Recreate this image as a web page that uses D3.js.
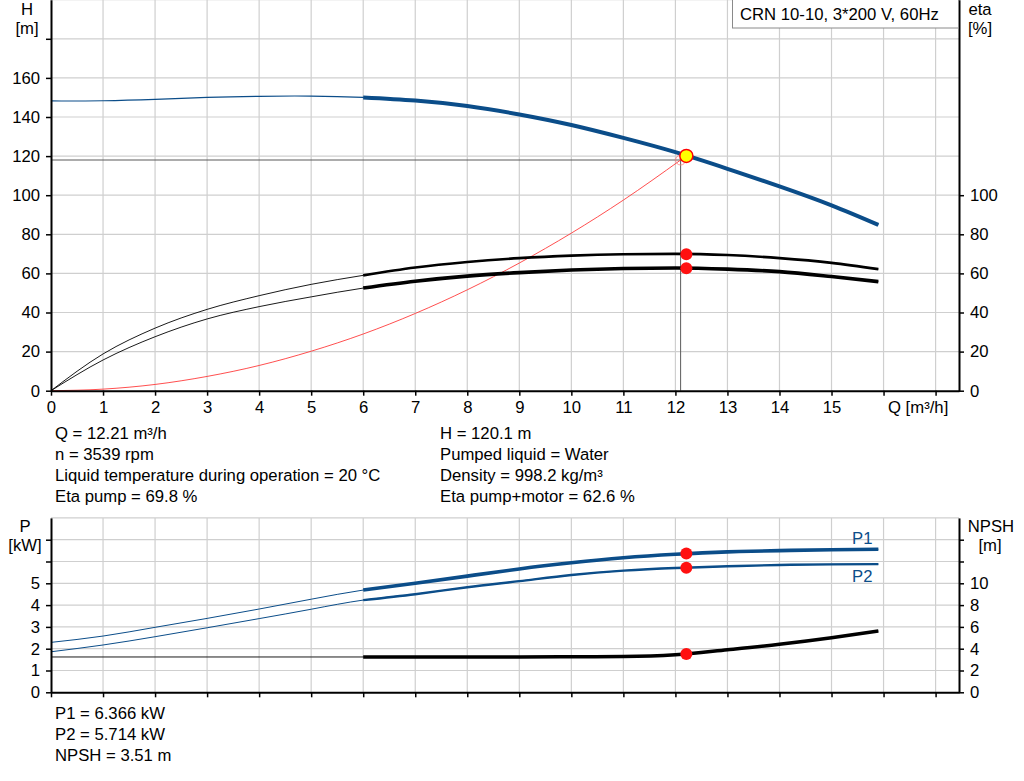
<!DOCTYPE html>
<html>
<head>
<meta charset="utf-8">
<script src="https://cdn.jsdelivr.net/npm/d3@7"></script>
<style>
  body { margin: 0; background: #fff; }
  svg text { font-family: "Liberation Sans", Arial, sans-serif; font-size: 16.7px; fill: #000; }
</style>
</head>
<body>
<svg width="1024" height="781"></svg>
<script>
'use strict';

// flow points along the pump curves [m3/h]
var flow = [0, 1, 2, 3, 4, 5, 6, 7, 8, 9, 10, 11, 12, 13, 14, 15, 15.9];
// head [m]
var head = [148.2, 148.3, 149, 150, 150.6, 150.7, 150, 148.4, 145.6, 141.3, 135.9, 129.3, 122.0, 113.5, 104.5, 94.8, 84.8];
// efficiency pump / pump+motor [%]
var etaPump = [0, 18.8, 32, 41.6, 48.6, 54.4, 59, 63, 65.8, 67.8, 69.1, 69.8, 70, 69.4, 67.8, 65.4, 62.2];
var etaTotal = [0, 15.7, 27.6, 36.7, 43, 48, 52.5, 56, 58.6, 60.4, 61.7, 62.5, 62.8, 62.2, 60.9, 58.4, 55.8];
// power [kW] and NPSH [m]
var p1 = [2.29, 2.58, 2.98, 3.39, 3.82, 4.27, 4.69, 5.0, 5.33, 5.66, 5.94, 6.17, 6.33, 6.44, 6.5, 6.54, 6.56];
var p2 = [1.86, 2.17, 2.55, 2.96, 3.38, 3.81, 4.23, 4.5, 4.82, 5.1, 5.38, 5.58, 5.7, 5.78, 5.84, 5.87, 5.88];
var npsh = [3.24, 3.24, 3.24, 3.24, 3.24, 3.24, 3.24, 3.24, 3.25, 3.25, 3.26, 3.28, 3.44, 3.9, 4.4, 5.0, 5.62];
// system curve
var sysFlow = [0, 1, 2, 3, 4, 5, 6, 7, 8, 9, 10, 11, 12.1];
var sysHead = [0, 0.8, 3.2, 7.3, 12.9, 20.2, 29, 39.5, 51.6, 65.3, 80.6, 97.5, 118];

// duty point
var duty = { q: 12.21, h: 120.1, etaP: 69.8, etaT: 62.6, p1: 6.366, p2: 5.714, npsh: 3.51 };
var cross = { q: 12.1, h: 118 };

var infoLeft = ['Q = 12.21 m³/h', 'n = 3539 rpm', 'Liquid temperature during operation = 20 °C', 'Eta pump = 69.8 %'];
var infoRight = ['H = 120.1 m', 'Pumped liquid = Water', 'Density = 998.2 kg/m³', 'Eta pump+motor = 62.6 %'];
var infoBottom = ['P1 = 6.366 kW', 'P2 = 5.714 kW', 'NPSH = 3.51 m'];
var title = 'CRN 10-10, 3*200 V, 60Hz';

var d3 = window.d3;
var svg = d3.select('svg');
var blue = '#0b4d89';
var grid = '#cfcfcf';
var x0 = 51, x1 = 959;

var x = d3.scaleLinear().domain([0, 17.45]).range([x0, x1]);
var yH = d3.scaleLinear().domain([0, 200]).range([390.7, -0.3]);
var yEta = d3.scaleLinear().domain([0, 200]).range([390.7, -0.3]);
var yP = d3.scaleLinear().domain([0, 8]).range([692.3, 517.9]);
var yN = d3.scaleLinear().domain([0, 16]).range([692.3, 517.9]);

var qTicks = d3.range(0, 18);

function gridLines(yScale, yTicks, top, bottom) {
    var g = svg.append('g').attr('stroke', grid).attr('stroke-width', 1.2);
    g.selectAll('.v').data(qTicks.slice(1)).enter().append('line')
        .attr('x1', function (d) { return x(d); }).attr('x2', function (d) { return x(d); })
        .attr('y1', top).attr('y2', bottom);
    g.selectAll('.h').data(yTicks).enter().append('line')
        .attr('x1', x0).attr('x2', x1)
        .attr('y1', function (d) { return yScale(d); }).attr('y2', function (d) { return yScale(d); });
}

gridLines(yH, d3.range(20, 220, 20), 0, yH(0));
gridLines(yP, d3.range(1, 9), yP(8), yP(0));

function curve(qs, vs, yScale, from, color, thin, thick, kind) {
    var pts = qs.map(function (q, i) { return [q, vs[i]]; });
    var line = d3.line().x(function (d) { return x(d[0]); }).y(function (d) { return yScale(d[1]); })
        .curve(kind || d3.curveMonotoneX);
    svg.append('path').attr('d', line(pts)).attr('fill', 'none')
        .attr('stroke', color).attr('stroke-width', thin);
    if (thick) {
        var part = pts.filter(function (d) { return d[0] >= from; });
        svg.append('path').attr('d', line(part)).attr('fill', 'none')
            .attr('stroke', color).attr('stroke-width', thick).attr('stroke-linecap', 'butt');
    }
}

// top chart
// crosshair
svg.append('line').attr('x1', x0).attr('x2', x(cross.q)).attr('y1', yH(cross.h)).attr('y2', yH(cross.h))
    .attr('stroke', '#5a5a5a').attr('stroke-width', 1);
svg.append('line').attr('x1', x(cross.q)).attr('x2', x(cross.q)).attr('y1', yH(cross.h)).attr('y2', yH(0))
    .attr('stroke', '#5a5a5a').attr('stroke-width', 1);

curve(sysFlow, sysHead, yH, 99, '#ff3b3b', 0.9, 0);
curve(flow, head, yH, 6, blue, 1.2, 4, d3.curveNatural);
curve(flow, etaPump, yEta, 6, '#000', 0.9, 2.6);
curve(flow, etaTotal, yEta, 6, '#000', 0.9, 3.6);

svg.append('circle').attr('cx', x(cross.q)).attr('cy', yH(cross.h)).attr('r', 5)
    .attr('fill', 'none').attr('stroke', '#ff8080').attr('stroke-width', 0.8);
svg.append('circle').attr('cx', x(duty.q)).attr('cy', yH(duty.h)).attr('r', 6.5)
    .attr('fill', '#ffff00').attr('stroke', '#ff0000').attr('stroke-width', 1.5);
[duty.etaP, duty.etaT].forEach(function (v) {
    svg.append('circle').attr('cx', x(duty.q)).attr('cy', yEta(v)).attr('r', 6).attr('fill', '#ff1010');
});

// bottom chart
curve(flow, npsh, yN, 6, '#000', 0.9, 3.5);
curve(flow, p2, yP, 6, blue, 1, 2.4, d3.curveNatural);
curve(flow, p1, yP, 6, blue, 1, 3.6, d3.curveNatural);
[yP(duty.p1), yP(duty.p2), yN(duty.npsh)].forEach(function (cy) {
    svg.append('circle').attr('cx', x(duty.q)).attr('cy', cy).attr('r', 6).attr('fill', '#ff1010');
});
svg.append('text').attr('x', 852).attr('y', 544).style('fill', blue).text('P1');
svg.append('text').attr('x', 852).attr('y', 582).style('fill', blue).text('P2');

// axes
function styleAxis(g) {
    g.select('.domain').attr('stroke', '#000').attr('stroke-width', 2);
    g.selectAll('.tick line').attr('stroke', '#000').attr('stroke-width', 1.5);
    g.selectAll('.tick text').style('font-size', '16.7px').style('font-family', '"Liberation Sans", Arial, sans-serif');
}

svg.append('g').attr('transform', 'translate(' + x0 + ',0)')
    .call(d3.axisLeft(yH).tickValues(d3.range(0, 200, 20)).tickSize(5).tickSizeOuter(0).tickPadding(6)
        .tickFormat(function (d) { return d <= 160 ? d : ''; }))
    .call(styleAxis);
svg.append('g').attr('transform', 'translate(' + x1 + ',0)')
    .call(d3.axisRight(yEta).tickValues(d3.range(0, 120, 20)).tickSize(5).tickSizeOuter(0).tickPadding(6))
    .call(styleAxis);
svg.append('g').attr('transform', 'translate(0,' + yH(0) + ')')
    .call(d3.axisBottom(x).tickValues(qTicks).tickSize(5).tickSizeOuter(0).tickPadding(5)
        .tickFormat(function (d) { return d <= 15 ? d : ''; }))
    .call(styleAxis);

svg.append('g').attr('transform', 'translate(' + x0 + ',0)')
    .call(d3.axisLeft(yP).tickValues(d3.range(0, 8)).tickSize(5).tickSizeOuter(0).tickPadding(6)
        .tickFormat(function (d) { return d <= 5 ? d : ''; }))
    .call(styleAxis);
svg.append('g').attr('transform', 'translate(' + x1 + ',0)')
    .call(d3.axisRight(yN).tickValues(d3.range(0, 16, 2)).tickSize(5).tickSizeOuter(0).tickPadding(6)
        .tickFormat(function (d) { return d <= 10 ? d : ''; }))
    .call(styleAxis);
svg.append('g').attr('transform', 'translate(0,' + yP(0) + ')')
    .call(d3.axisBottom(x).tickValues(qTicks).tickSize(5).tickSizeOuter(0).tickFormat(''))
    .call(styleAxis);

// axis titles
function label(tx, ty, s, anchor) {
    svg.append('text').attr('x', tx).attr('y', ty).attr('text-anchor', anchor || 'middle').text(s);
}
label(27, 15, 'H'); label(27, 34, '[m]');
label(980, 15, 'eta'); label(980, 34, '[%]');
label(888, 413, 'Q [m³/h]', 'start');
label(25, 532, 'P'); label(25, 551, '[kW]');
label(991, 532, 'NPSH'); label(990, 551, '[m]');

// title box
svg.append('rect').attr('x', 732.5).attr('y', -1).attr('width', 226).attr('height', 29)
    .attr('fill', '#fff').attr('stroke', '#8a8a8a').attr('stroke-width', 1);
label(740, 20, title, 'start');

// info texts
infoLeft.forEach(function (s, i) { label(55, 439 + i * 21, s, 'start'); });
infoRight.forEach(function (s, i) { label(440, 439 + i * 21, s, 'start'); });
infoBottom.forEach(function (s, i) { label(55, 719 + i * 21, s, 'start'); });
</script>
</body>
</html>
